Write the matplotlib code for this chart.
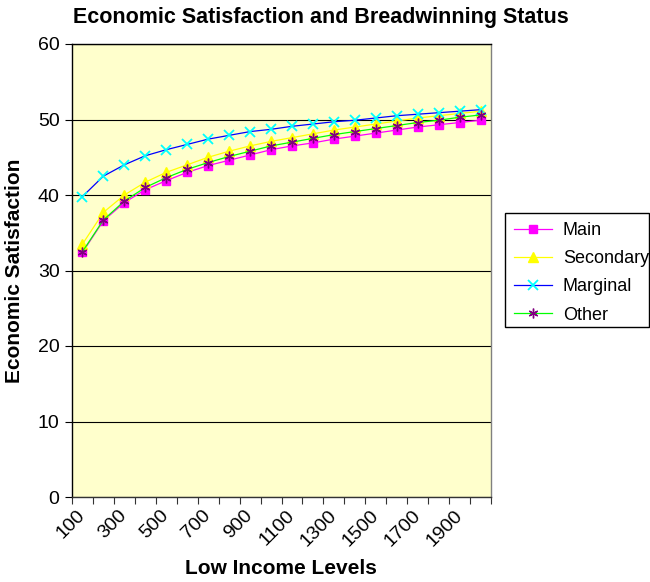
import matplotlib
matplotlib.use("Agg")
import matplotlib.pyplot as plt
from matplotlib.patches import Rectangle
from matplotlib.transforms import ScaledTranslation

plt.rcParams['font.family'] = ['Liberation Sans', 'DejaVu Sans']

# income levels (categories) and series values
income = [100, 200, 300, 400, 500, 600, 700, 800, 900, 1000,
          1100, 1200, 1300, 1400, 1500, 1600, 1700, 1800, 1900, 2000]
main = [32.4, 36.6, 39.0, 40.7, 41.9, 43.0, 43.9, 44.6, 45.3, 46.0,
        46.5, 46.9, 47.4, 47.8, 48.2, 48.6, 49.0, 49.3, 49.6, 49.9]
secondary = [33.5, 37.7, 40.0, 41.7, 43.0, 44.0, 45.0, 45.8, 46.5, 47.1,
             47.6, 48.1, 48.6, 49.0, 49.4, 49.8, 50.2, 50.5, 50.8, 51.1]
marginal = [39.8, 42.5, 44.0, 45.2, 46.0, 46.7, 47.4, 47.9, 48.4, 48.7,
            49.1, 49.4, 49.7, 49.9, 50.2, 50.5, 50.7, 50.9, 51.1, 51.3]
other = [32.5, 36.7, 39.2, 41.0, 42.3, 43.4, 44.3, 45.1, 45.8, 46.5,
         47.0, 47.5, 48.0, 48.4, 48.8, 49.2, 49.6, 49.9, 50.3, 50.6]
yticks = [0, 10, 20, 30, 40, 50, 60]

fig = plt.figure(figsize=(6.5, 5.82), dpi=100)
ax = fig.add_axes([72/650, 1-497/582, (491-72)/650, (497-44)/582])
ax.set_facecolor('#FFFFCC')

x = list(range(len(income)))
ax.plot(x, main, color='#FF00FF', lw=0.9, marker='s', ms=6,
        mfc='#FF00FF', mec='#FF00FF', label='Main')
ax.plot(x, secondary, color='#FFFF00', lw=0.9, marker='^', ms=7,
        mfc='#FFFF00', mec='#FFFF00', label='Secondary')
ax.plot(x, marginal, color='#0000FF', lw=0.9, marker='x', ms=7, mew=1.3,
        mec='#00FFFF', label='Marginal')
ax.plot(x, other, color='#00FF00', lw=0.9, marker=(6, 2, 0), ms=7, mew=1.0,
        mec='#800080', label='Other')

ax.set_ylim(0, 60)
ax.set_yticks(yticks)
ax.yaxis.grid(True, color='black', lw=0.8)
ax.set_axisbelow(True)
ax.tick_params(axis='y', direction='out', length=5, width=0.8, pad=4, labelsize=14)

# category axis: ticks between categories, every other label
ax.set_xlim(-0.5, len(income) - 0.5)
ax.set_xticks([i - 0.5 for i in range(len(income) + 1)])
ax.set_xticklabels([])
ax.tick_params(axis='x', which='major', direction='out', length=5, width=0.8, color='#333333')
ax.set_xticks(x[::2], minor=True)
ax.set_xticklabels([str(v) for v in income[::2]], minor=True, rotation=45,
                   ha='right', va='top', rotation_mode='anchor', fontsize=14)
ax.tick_params(axis='x', which='minor', length=0, pad=7)
for lab in ax.get_xticklabels(minor=True):
    lab.set_transform(lab.get_transform() + ScaledTranslation(-6/100, 0, fig.dpi_scale_trans))

for s in ['left', 'top']:
    ax.spines[s].set_color('black')
ax.spines['right'].set_color('#808080')
ax.spines['bottom'].set_color('#333333')
for s in ax.spines.values():
    s.set_linewidth(1.0)

fig.text(321/650, 1-18/582, 'Economic Satisfaction and Breadwinning Status',
         ha='center', va='center', fontsize=15.5, fontweight='bold')
fig.text(15/650, 1-271/582, 'Economic Satisfaction', rotation=90,
         ha='center', va='center', fontsize=15, fontweight='bold')
fig.text(281/650, 1-569/582, 'Low Income Levels',
         ha='center', va='center', fontsize=15, fontweight='bold')

# legend box drawn separately so it fits inside the figure
fig.patches.append(Rectangle((505/650, 1-327/582), 144/650, 114/582,
                             transform=fig.transFigure, fill=False,
                             edgecolor='black', lw=1.0))
fig.legend(loc='upper left', bbox_to_anchor=(505/650, 1-213/582),
           fontsize=13, frameon=False, borderaxespad=0, handlelength=2.1,
           handletextpad=0.6, labelspacing=0.62, borderpad=0.5)

fig.savefig('out.png', dpi=100)
